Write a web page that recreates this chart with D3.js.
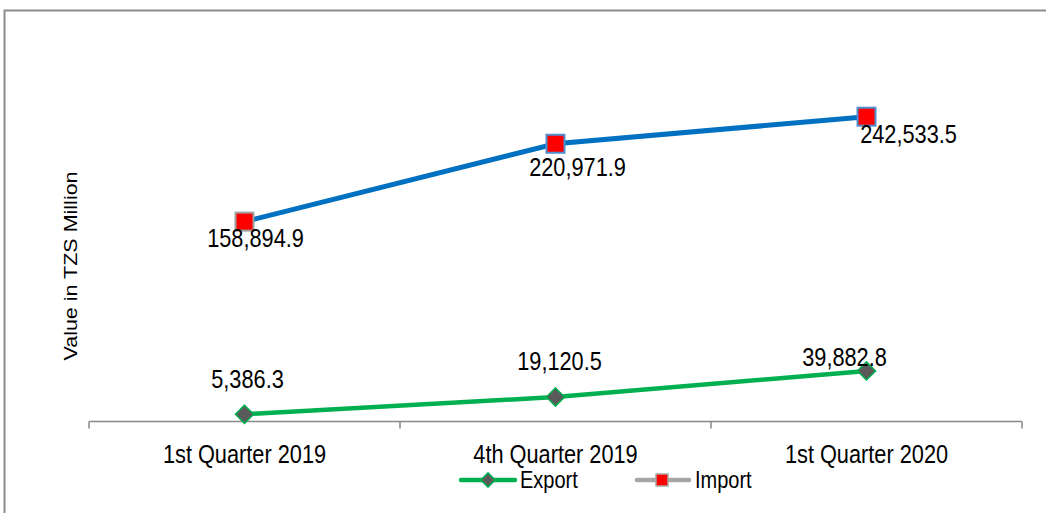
<!DOCTYPE html>
<html><head><meta charset="utf-8">
<script src="https://cdn.jsdelivr.net/npm/d3@7"></script>
<style>body{margin:0;background:#fff}svg{display:block}text{font-family:"Liberation Sans",Arial,sans-serif;fill:#000}</style>
</head><body><div id="c"></div>
<script>
const categories = ["1st Quarter 2019", "4th Quarter 2019", "1st Quarter 2020"];
const exportValues = [5386.3, 19120.5, 39882.8];
const importValues = [158894.9, 220971.9, 242533.5];
const seriesNames = ["Export", "Import"];
const yLabel = "Value in TZS Million";

const W = 1046, H = 513;
const svg = d3.select("#c").append("svg").attr("width", W).attr("height", H);
const SX = 0.87, FS = 25;

// outer border
svg.append("rect").attr("x", 4.5).attr("y", 10.5).attr("width", W + 10).attr("height", H + 10)
  .attr("fill", "none").attr("stroke", "#8c8c8c").attr("stroke-width", 2);

const x = d3.scaleBand().domain(categories).range([89, 1022]);
const y = d3.scaleLinear().domain([0, 300000]).range([421, 44.6]);

// x axis
const ax = svg.append("g").attr("transform", "translate(0,421.5)");
ax.append("line").attr("x1", 89).attr("x2", 1022).attr("stroke", "#898989").attr("stroke-width", 1.5);
const tickPos = categories.map(c => x(c)).concat([x.range()[1]]);
ax.selectAll("line.t").data(tickPos).join("line").attr("class", "t")
  .attr("x1", d => d).attr("x2", d => d).attr("y1", 0).attr("y2", 7)
  .attr("stroke", "#898989").attr("stroke-width", 1.5);

function stext(xp, yp, str, anchor, fs) {
  return svg.append("text").attr("transform", `translate(${xp},${yp}) scale(${SX},1)`)
    .attr("text-anchor", anchor || "middle").attr("font-size", fs || FS).text(str);
}
categories.forEach(c => stext(x(c) + x.bandwidth() / 2, 463, c));

// y label
svg.append("text").attr("transform", `translate(77,266) scale(${SX},1) rotate(-90)`)
  .attr("text-anchor", "middle").attr("font-size", 21.5).text(yLabel);

const cx = c => x(c) + x.bandwidth() / 2;
const line = d3.line().x((d, i) => cx(categories[i])).y(d => y(d));

svg.append("path").datum(importValues).attr("d", line).attr("fill", "none")
  .attr("stroke", "#0070c0").attr("stroke-width", 5);
svg.append("path").datum(exportValues).attr("d", line).attr("fill", "none")
  .attr("stroke", "#00b050").attr("stroke-width", 4.5);

const sq = 18;
svg.selectAll("rect.imp").data(importValues).join("rect").attr("class", "imp")
  .attr("x", (d, i) => cx(categories[i]) - sq / 2).attr("y", d => y(d) - sq / 2)
  .attr("width", sq).attr("height", sq).attr("fill", "#ff0000")
  .attr("stroke", (d, i) => i === 0 ? "#a0a0a0" : "#4f8fcf").attr("stroke-width", 2);

const diamond = d3.symbol().type(d3.symbolDiamond2).size(210);
svg.selectAll("path.exp").data(exportValues).join("path").attr("class", "exp")
  .attr("d", diamond).attr("transform", (d, i) => `translate(${cx(categories[i])},${y(d)})`)
  .attr("fill", "#5a5a5a").attr("stroke", "#00b050").attr("stroke-width", 1.5);

const fmt = d3.format(",.1f");
const impOff = [[11, 25], [22, 32], [42, 26]];
const expOff = [[3, -26], [4, -27], [-22, -5]];
importValues.forEach((v, i) => stext(cx(categories[i]) + impOff[i][0], y(v) + impOff[i][1], fmt(v)));
exportValues.forEach((v, i) => stext(cx(categories[i]) + expOff[i][0], y(v) + expOff[i][1], fmt(v)));

// legend
const lg = svg.append("g");
lg.append("line").attr("x1", 461).attr("x2", 515).attr("y1", 480).attr("y2", 480)
  .attr("stroke", "#00b050").attr("stroke-width", 4.5).attr("stroke-linecap", "round");
lg.append("path").attr("d", d3.symbol().type(d3.symbolDiamond2).size(130))
  .attr("transform", "translate(488,480)").attr("fill", "#5a5a5a").attr("stroke", "#00b050").attr("stroke-width", 1.5);
stext(520, 488, seriesNames[0], "start", 23);
lg.append("line").attr("x1", 637).attr("x2", 689).attr("y1", 480).attr("y2", 480)
  .attr("stroke", "#a6a6a6").attr("stroke-width", 4.5).attr("stroke-linecap", "round");
lg.append("rect").attr("x", 656).attr("y", 474).attr("width", 12).attr("height", 12)
  .attr("fill", "#ff0000").attr("stroke", "#a6a6a6").attr("stroke-width", 1.5);
stext(695, 488, seriesNames[1], "start", 23);
</script></body></html>
